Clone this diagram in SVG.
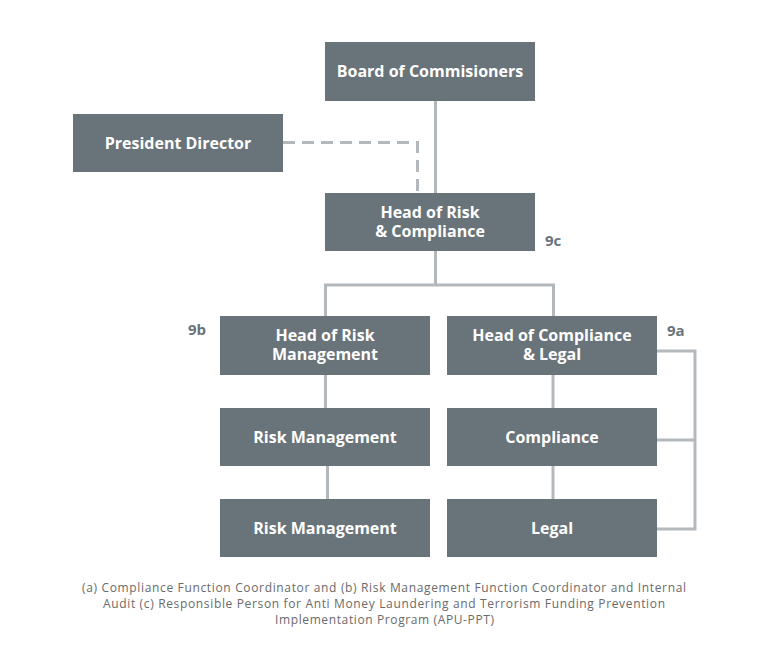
<svg xmlns="http://www.w3.org/2000/svg" width="776" height="662" viewBox="0 0 776 662">
<style>
.box{fill:#69737a}
.lbl{font-family:"Open Sans","Noto Sans",sans-serif;font-weight:700;font-size:16px;fill:#ffffff;text-anchor:middle}
.tag{font-family:"Open Sans","Noto Sans",sans-serif;font-weight:700;font-size:15px;fill:#69737a}
.ln{fill:none;stroke:#b3b8bc;stroke-width:3}
.dash{fill:none;stroke:#b3b8bc;stroke-width:3;stroke-dasharray:12 7}
.note{font-family:"Open Sans","Noto Sans",sans-serif;font-weight:400;font-size:12px;fill:#6a6a6a}
</style>
<rect width="776" height="662" fill="#ffffff"/>
<g id="connectors">
<path class="ln" d="M435.5 101 V193"/>
<path class="dash" d="M283 142.5 H417.5 V193"/>
<path class="ln" d="M435.5 251 V285 M325.5 316 V285 H553.5 V316"/>
<path class="ln" d="M325.5 375 V408 M327.5 466 V499"/>
<path class="ln" d="M553 375 V408 M553 466 V499"/>
<path class="ln" d="M657 351 H695 V529 H657 M657 440 H695"/>
</g>
<g id="board"><rect class="box" x="325" y="42" width="210" height="59"/><text class="lbl" x="430" y="77">Board of Commisioners</text></g>
<g id="president"><rect class="box" x="73" y="114" width="210" height="58"/><text class="lbl" x="178" y="148.5">President Director</text></g>
<g id="head-risk-compliance"><rect class="box" x="325" y="193" width="210" height="58"/><text class="lbl" x="430" y="218">Head of Risk</text><text class="lbl" x="430" y="237">&amp; Compliance</text></g>
<g id="head-risk-mgmt"><rect class="box" x="220" y="316" width="210" height="59"/><text class="lbl" x="325" y="341">Head of Risk</text><text class="lbl" x="325" y="360">Management</text></g>
<g id="head-compliance-legal"><rect class="box" x="447" y="316" width="210" height="59"/><text class="lbl" x="552" y="341">Head of Compliance</text><text class="lbl" x="552" y="360">&amp; Legal</text></g>
<g id="risk-mgmt-1"><rect class="box" x="220" y="408" width="210" height="58"/><text class="lbl" x="325" y="442.5">Risk Management</text></g>
<g id="compliance"><rect class="box" x="447" y="408" width="210" height="58"/><text class="lbl" x="552" y="442.5">Compliance</text></g>
<g id="risk-mgmt-2"><rect class="box" x="220" y="499" width="210" height="58"/><text class="lbl" x="325" y="533.5">Risk Management</text></g>
<g id="legal"><rect class="box" x="447" y="499" width="210" height="58"/><text class="lbl" x="552" y="533.5">Legal</text></g>
<g id="tags">
<text class="tag" x="545" y="246">9c</text>
<text class="tag" x="188" y="335">9b</text>
<text class="tag" x="667" y="336">9a</text>
</g>
<g id="note">
<text class="note" x="82" y="592" textLength="604" lengthAdjust="spacing">(a) Compliance  Function Coordinator and (b) Risk Management  Function Coordinator and  Internal</text>
<text class="note" x="103" y="608" textLength="562" lengthAdjust="spacing">Audit (c) Responsible  Person for Anti Money Laundering  and Terrorism  Funding Prevention</text>
<text class="note" x="275" y="624" textLength="219" lengthAdjust="spacing">Implementation  Program (APU-PPT)</text>
</g>
</svg>
